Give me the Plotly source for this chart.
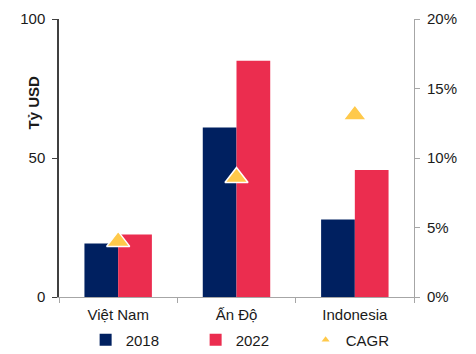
import plotly.graph_objects as go

# Data
countries = ["Việt Nam", "Ấn Độ", "Indonesia"]
val_2018 = [19.2, 61.0, 27.9]      # tỷ USD
val_2022 = [22.5, 85.0, 45.7]      # tỷ USD
cagr = [0.040, 0.086, 0.131]       # tăng trưởng kép 2018-2022

NAVY = "#002060"
RED = "#EB2D4F"
GOLD = "#FFC94A"
FONT = "Liberation Sans, Arial, sans-serif"

fig = go.Figure()

fig.add_trace(go.Bar(x=countries, y=val_2018, name="2018",
                     marker=dict(color=NAVY, line=dict(width=0))))
fig.add_trace(go.Bar(x=countries, y=val_2022, name="2022",
                     marker=dict(color=RED, line=dict(width=0))))

fig.add_trace(go.Scatter(x=countries, y=cagr, yaxis="y2", mode="markers",
                         name="CAGR", showlegend=False, legendgroup="cagr",
                         marker=dict(symbol="triangle-up", size=20, color=GOLD,
                                     line=dict(color="white", width=1.5))))
# small legend symbol for CAGR
fig.add_trace(go.Scatter(x=[None], y=[None], yaxis="y2", mode="markers",
                         name="CAGR", legendgroup="cagr",
                         marker=dict(symbol="triangle-up", size=7, color=GOLD)))

fig.update_layout(
    width=476, height=354,
    margin=dict(l=59, r=62, t=19, b=57, autoexpand=False),
    paper_bgcolor="white", plot_bgcolor="white",
    font=dict(family=FONT, size=15, color="#1a1a1a"),
    barmode="group", bargap=0.43, bargroupgap=0,
    showlegend=True,
    legend=dict(orientation="h", x=0.075, xanchor="left", y=-0.155, yanchor="middle",
                font=dict(size=15), itemwidth=30, traceorder="normal",
                entrywidth=65, bgcolor="rgba(0,0,0,0)"),
    xaxis=dict(showgrid=False, showline=True, linecolor="#a6a6a6", linewidth=1,
               ticks="outside", tickson="boundaries", ticklen=5, tickcolor="#a6a6a6",
               tickfont=dict(size=15), ticklabelstandoff=4),
    yaxis=dict(range=[0, 100], tickvals=[0, 50, 100], showgrid=False, zeroline=False,
               showline=True, linecolor="#404040", linewidth=1.5,
               ticks="outside", ticklen=5, tickcolor="#404040",
               tickfont=dict(size=15), ticklabelstandoff=4),
    yaxis2=dict(range=[0, 0.2], tickvals=[0, 0.05, 0.10, 0.15, 0.20], tickformat=".0%",
                overlaying="y", side="right", showgrid=False, zeroline=False,
                showline=True, linecolor="#a6a6a6", linewidth=1,
                ticks="outside", ticklen=5, tickcolor="#a6a6a6",
                tickfont=dict(size=15), ticklabelstandoff=4),
    annotations=[dict(text="<b>Tỷ USD</b>", textangle=-90, xref="paper", yref="paper",
                      x=-0.073, y=0.70, xanchor="center", yanchor="middle",
                      showarrow=False, font=dict(size=15, color="#1a1a1a"))],
)

fig.write_html("out.html")
